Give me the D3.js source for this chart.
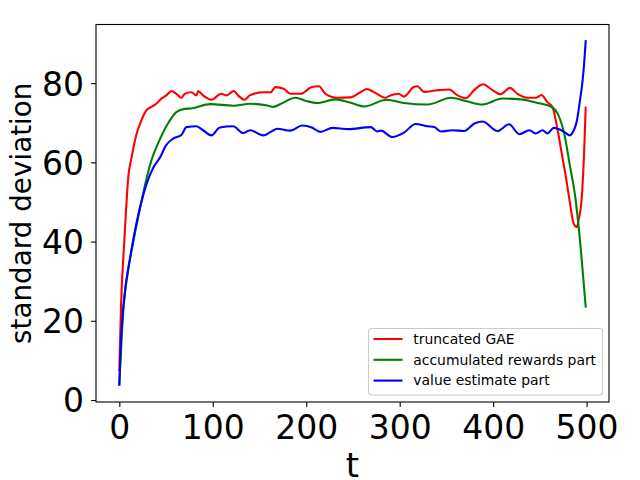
<!DOCTYPE html>
<html>
<head>
<meta charset="utf-8">
<script src="https://cdn.jsdelivr.net/npm/d3@7"></script>
<style>
  body { margin: 0; background: #fff; }
  svg { display: block; }
  text { font-family: "DejaVu Sans", sans-serif; fill: #000; }
</style>
</head>
<body>
<svg id="chart" width="640" height="480"></svg>
<script>
// Data (t, standard deviation)
const gaeT = [0, 1.8, 5.4, 10, 12.5, 18, 23.6, 28.9, 34.3, 39.6, 45, 50.3, 55.7, 61, 66.4, 70, 77, 82.5, 84.3, 89.6,
  98.6, 109, 114.6, 122.5, 127, 134, 139.6, 154, 162, 167, 176, 183, 194, 206, 213.5, 220.6, 233, 247, 258, 265,
  272, 285, 290, 299, 304.6, 315, 319, 326, 340, 353, 362, 370.6, 380, 389, 399, 408, 418, 426, 437, 445.6,
  451.7, 458, 463.5, 469, 474, 478, 482, 486, 489.6, 491.5, 494.6, 497.4, 499];
const gaeV = [7.6, 23.6, 40.4, 57.2, 60.5, 66.8, 70.6, 73.1, 74.0, 74.8, 76.1, 76.9, 78.0, 77.3, 76.3, 77.3, 77.7, 76.9, 78.0, 76.9,
  75.8, 77.3, 76.9, 78.0, 76.9, 75.8, 76.9, 77.7, 77.7, 79.0, 78.6, 77.3, 77.3, 79.0, 79.2, 77.3, 76.3, 76.4, 77.7, 78.5,
  77.8, 76.3, 76.9, 77.3, 76.6, 79.0, 79.2, 77.8, 78.2, 78.4, 76.9, 76.2, 78.3, 79.7, 78.3, 77.2, 78.8, 77.3, 76.3, 76.3,
  77.0, 75.2, 74.0, 68.1, 61.4, 56.0, 50.0, 44.6, 43.7, 45.5, 50.5, 63.0, 73.8];

const rewT = [0, 4.6, 8.9, 15.3, 22.5, 29.7, 34.3, 43, 52, 61, 70, 77, 97, 122, 140, 157, 165, 173, 188.5, 200,
  212, 231, 247, 262, 286, 304.6, 330, 355, 370.6, 388.6, 410, 429.6, 447.5, 461.7, 469, 476, 482.4, 488, 494, 499];
const rewV = [4.0, 23.6, 32.0, 40.4, 48.8, 56.5, 60.5, 65.6, 69.8, 72.7, 73.5, 73.6, 74.7, 74.3, 74.8, 74.4, 74.0, 74.8, 76.3, 75.5,
  75.0, 75.9, 75.1, 74.1, 75.8, 75.0, 74.6, 76.3, 75.5, 74.6, 76.1, 75.9, 75.0, 74.1, 72.3, 67.3, 58.8, 51.0, 37.5, 23.6];

const valT = [0, 1.8, 5.4, 11.8, 19, 26, 36.7, 43.5, 50, 57.5, 66.4, 71.8, 82.5, 89.6, 98.6, 107.5, 121.8, 132.5, 140, 154,
  162, 169, 183, 195.7, 206, 215, 228, 245, 269, 276, 280, 292, 304.6, 317, 330, 337, 344, 356, 369, 380,
  388.6, 404.6, 417, 428, 438.5, 445.6, 452.8, 458, 465, 476, 482, 485, 490, 492.5, 495.7, 497.5, 499];
const valV = [3.85, 15.2, 26.1, 36.2, 45.4, 52.1, 58.8, 61.2, 64.3, 66.0, 66.9, 68.9, 69.1, 68.1, 66.8, 68.8, 69.1, 67.4, 68.1, 66.8,
  67.7, 68.5, 68.0, 69.3, 68.8, 67.7, 68.7, 68.4, 68.9, 67.8, 68.0, 66.4, 67.5, 69.7, 69.1, 68.9, 67.8, 68.1, 67.9, 69.8,
  70.3, 67.9, 69.6, 67.1, 68.1, 67.3, 68.1, 67.3, 68.7, 67.7, 66.8, 67.5, 71.0, 75.0, 80.7, 85.5, 90.6];

const seriesNames = ['truncated GAE', 'accumulated rewards part', 'value estimate part'];
const seriesColors = ['#ff0000', '#008000', '#0000ff'];
const xTicks = [0, 100, 200, 300, 400, 500];
const yTicks = [0, 20, 40, 60, 80];

// Layout (matplotlib-like axes box)
const box = { left: 96, right: 609, top: 24.5, bottom: 402 };

const svg = d3.select('#chart');

const x = d3.scaleLinear().domain([-24.95, 523.95]).range([box.left, box.right]);
const y = d3.scaleLinear().domain([-0.5, 94.8]).range([box.bottom, box.top]);

const series = [
  { name: seriesNames[0], color: seriesColors[0], pts: gaeT.map((t, i) => [t, gaeV[i]]) },
  { name: seriesNames[1], color: seriesColors[1], pts: rewT.map((t, i) => [t, rewV[i]]) },
  { name: seriesNames[2], color: seriesColors[2], pts: valT.map((t, i) => [t, valV[i]]) }
];

const line = d3.line()
  .x(d => x(d[0]))
  .y(d => y(d[1]))
  .curve(d3.curveMonotoneX);

svg.append('g')
  .selectAll('path')
  .data(series)
  .enter().append('path')
  .attr('d', d => line(d.pts))
  .attr('fill', 'none')
  .attr('stroke', d => d.color)
  .attr('stroke-width', 2.1)
  .attr('stroke-linejoin', 'round')
  .attr('stroke-linecap', 'square');

// Axes
const xAxis = svg.append('g')
  .attr('transform', `translate(0,${box.bottom})`)
  .call(d3.axisBottom(x).tickValues(xTicks).tickSize(4.9).tickPadding(5).tickSizeOuter(0));
xAxis.select('.domain').remove();
xAxis.selectAll('text')
  .attr('font-size', 33)
  .attr('font-family', 'DejaVu Sans')
  .attr('dy', null)
  .attr('y', 36.5);

const yAxis = svg.append('g')
  .attr('transform', `translate(${box.left},0)`)
  .call(d3.axisLeft(y).tickValues(yTicks).tickSize(4.9).tickPadding(7).tickSizeOuter(0));
yAxis.select('.domain').remove();
yAxis.selectAll('text')
  .attr('font-size', 33)
  .attr('font-family', 'DejaVu Sans')
  .attr('dy', '0.36em');
svg.selectAll('.tick line').attr('stroke', '#000').attr('stroke-width', 1.1);

// Frame
svg.append('rect')
  .attr('x', box.left)
  .attr('y', box.top)
  .attr('width', box.right - box.left)
  .attr('height', box.bottom - box.top)
  .attr('fill', 'none')
  .attr('stroke', '#000')
  .attr('stroke-width', 1.1);

// Axis labels
svg.append('text')
  .attr('x', (box.left + box.right) / 2)
  .attr('y', 477)
  .attr('text-anchor', 'middle')
  .attr('font-size', 34)
  .text('t');

svg.append('text')
  .attr('transform', `translate(31,${(box.top + box.bottom) / 2}) rotate(-90)`)
  .attr('text-anchor', 'middle')
  .attr('font-size', 27.8)
  .text('standard deviation');

// Legend
const legend = svg.append('g').attr('transform', 'translate(368.5,328.5)');
legend.append('rect')
  .attr('width', 234)
  .attr('height', 66.5)
  .attr('rx', 2.8)
  .attr('fill', '#fff')
  .attr('fill-opacity', 0.8)
  .attr('stroke', '#cccccc')
  .attr('stroke-width', 1.1);

const rows = legend.selectAll('g.row')
  .data(series)
  .enter().append('g')
  .attr('class', 'row')
  .attr('transform', (d, i) => `translate(0,${10.5 + i * 20.8})`);
rows.append('line')
  .attr('x1', 5).attr('x2', 34)
  .attr('stroke', d => d.color)
  .attr('stroke-width', 2.1);
rows.append('text')
  .attr('x', 44.8)
  .attr('dy', '0.35em')
  .attr('font-size', 13.9)
  .text(d => d.name);
</script>
</body>
</html>
